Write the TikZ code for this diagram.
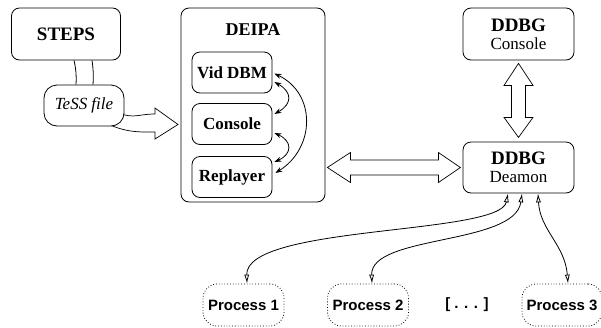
\documentclass[tikz,border=0pt]{standalone}
\usepackage{fontspec}
\setmainfont{Liberation Serif}
\newfontfamily\procfont{Liberation Sans}
\usetikzlibrary{arrows.meta}
\begin{document}
\begin{tikzpicture}[x=1pt,y=-1pt,line width=0.8pt,line join=miter,
  box/.style={draw,rounded corners=8pt,fill=white,inner sep=0pt},
  innerbox/.style={box,minimum width=80pt,minimum height=41pt,font=\fontsize{17}{17}\selectfont\bfseries},
  ddbg/.style={box,minimum width=111pt,minimum height=52pt,align=center,font=\fontsize{17}{18}\selectfont},
  procbox/.style={draw,dotted,rounded corners=14pt,minimum width=81pt,minimum height=42pt,inner sep=0pt,font=\procfont\bfseries\fontsize{15}{15}\selectfont},
  fat/.style={draw,fill=white,line width=0.7pt},
  inarrow/.style={{Stealth[length=7pt,width=5pt]}-{Stealth[length=7pt,width=5pt]}},
  parrow/.style={{Latex[open,length=9pt,width=5pt]}-{Latex[open,length=9pt,width=5pt]}}]
\useasboundingbox (0,0) rectangle (601,327);

% STEPS
\node[box,minimum width=109pt,minimum height=52pt,font=\fontsize{19}{19}\selectfont\bfseries] (steps) at (66,34) {STEPS};

% TeSS file fat arrow (behind the TeSS node)
\coordinate (tessLow) at (104,122);
\coordinate (tessUp) at (118,113);
\draw[fat] (tessLow) .. controls (125,133) and (140,132) .. (155,132) -- (155,139) -- (178,124.5) -- (155,108) -- (155,114) .. controls (138,114) and (135,119) .. (tessUp);

% TeSS file
\node[box,rounded corners=13pt,minimum width=80pt,minimum height=41pt,font=\fontsize{17}{17}\selectfont\itshape] (tess) at (84,105.5) {TeSS file};
\draw ([xshift=8pt]steps.south) to[bend left=8] ([xshift=-8pt]tess.north);
\draw ([xshift=26pt]steps.south) to[bend left=6] ([xshift=9pt]tess.north);

% DEIPA
\node[box,minimum width=144pt,minimum height=194pt] (deipa) at (253,105) {};
\node[font=\fontsize{18}{18}\selectfont\bfseries] (deipat) at (253,30) {DEIPA};
\node[innerbox] (vid) at (232,72.5) {Vid DBM};
\node[innerbox] (con) at (232,124) {Console};
\node[innerbox] (rep) at (232,177) {Replayer};
\draw[inarrow] ([shift={(2,1)}]vid.east) .. controls +(42,20) and +(40,-25) .. ([shift={(3,-4)}]rep.east);
\draw[inarrow] ([shift={(2,9.5)}]vid.east) .. controls +(18,10) and +(18,-10) .. ([shift={(2,-10)}]con.east);
\draw[inarrow] ([shift={(2,9)}]con.east) .. controls +(18,8) and +(18,-8) .. ([shift={(2,-15)}]rep.east);

% DDBG
\node[ddbg] (ddbgc) at (518.5,34) {{\fontsize{19}{18}\selectfont\bfseries DDBG}\\Console};
\node[ddbg,minimum height=51pt] (ddbgd) at (518.5,167.5) {{\fontsize{19}{18}\selectfont\bfseries DDBG}\\Deamon};

% vertical fat double arrow
\draw[fat] ([yshift=-3pt]ddbgc.south) -- ++(14.5,22) -- ++(-7.5,0) -- ++(0,32) -- ++(7.5,0) -- ++(-14.5,20) -- ++(-14.5,-20) -- ++(7.5,0) -- ++(0,-32) -- ++(-7.5,0) -- cycle;

% horizontal fat double arrow
\path (deipa.east |- ddbgd.west) coordinate (hl0);
\draw[fat] ([xshift=2pt]hl0) -- ++(23,-15) -- ++(0,7.5) -- ++(88,0) -- ++(0,-7.5) -- ++(22,15) -- ++(-22,15) -- ++(0,-7.5) -- ++(-88,0) -- ++(0,7.5) -- cycle;

% processes
\node[procbox] (p1) at (243.5,305) {Process 1};
\node[procbox] (p2) at (368,305) {Process 2};
\node[procbox,minimum width=80pt] (p3) at (562,305) {Process 3};
\node[font=\procfont\bfseries\fontsize{15}{15}\selectfont] (dots) at (467,305) {[ . . . ]};

\draw[parrow] ([xshift=-10.5pt]ddbgd.south) .. controls +(-8,42) and +(-2,-59) .. ([xshift=3.5pt]p1.north);
\draw[parrow] ([xshift=3.5pt]ddbgd.south) .. controls +(-7,52) and +(-2,-49) .. ([xshift=4pt]p2.north);
\draw[parrow] ([xshift=19.5pt]ddbgd.south) .. controls +(2,37) and +(-3,-39) .. ([xshift=6pt]p3.north);
\end{tikzpicture}
\end{document}
